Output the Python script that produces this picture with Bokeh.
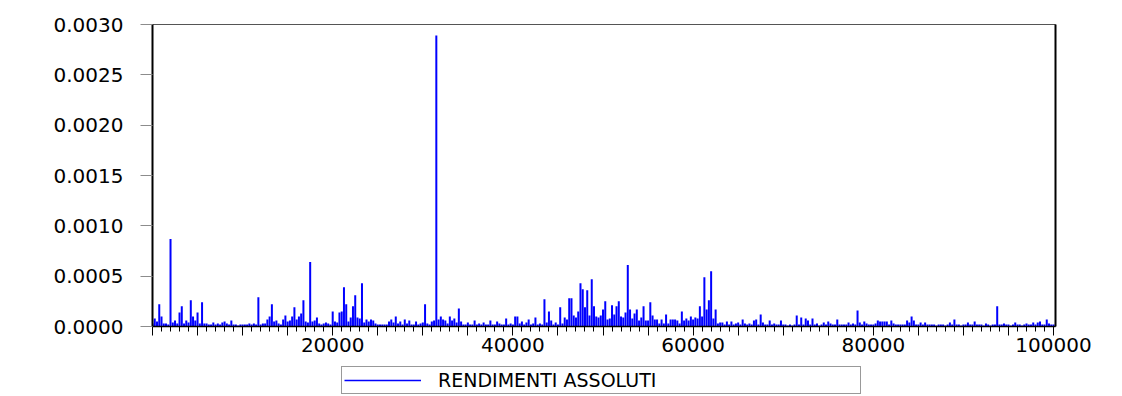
from bokeh.plotting import figure
from bokeh.layouts import column
from bokeh.models import (FixedTicker, LinearAxis, Legend, LegendItem, Range1d,
                          PrintfTickFormatter, ColumnDataSource)
from bokeh.embed import file_html
from bokeh.resources import INLINE

# Absolute returns, one reading every 250 observations, in units of 1e-5
STEP = 250
seg_0_20k = [3, 8, 5, 22, 10, 3, 3, 2, 87, 4, 6, 3, 14, 20, 3, 6, 4, 26, 10, 6,
             14, 3, 24, 3, 3, 2, 2, 4, 2, 3, 2, 4, 5, 3, 2, 6, 2, 2, 1, 2,
             2, 2, 2, 3, 2, 3, 2, 29, 2, 3, 3, 7, 10, 22, 5, 6, 3, 2, 7, 11,
             5, 6, 10, 19, 7, 10, 13, 26, 5, 4, 64, 5, 6, 9, 3, 2, 3, 4, 3, 2]
seg_20k_40k = [15, 5, 4, 14, 15, 39, 22, 5, 9, 20, 31, 9, 8, 43, 4, 7, 5, 7, 6, 3,
               2, 2, 2, 2, 2, 5, 7, 4, 10, 3, 5, 2, 7, 3, 6, 2, 2, 5, 2, 3,
               4, 22, 3, 2, 5, 6, 289, 7, 10, 7, 6, 3, 10, 6, 8, 4, 18, 5, 2, 2,
               4, 2, 2, 6, 2, 3, 2, 4, 2, 2, 6, 2, 2, 5, 3, 2, 2, 8, 2, 3]
seg_40k_60k = [2, 10, 10, 3, 5, 2, 4, 7, 2, 3, 9, 2, 3, 2, 27, 4, 15, 6, 2, 4,
               2, 19, 3, 9, 7, 28, 28, 11, 9, 15, 43, 37, 19, 36, 11, 47, 20, 10, 9, 11,
               17, 25, 7, 8, 21, 12, 20, 25, 10, 9, 14, 61, 17, 8, 13, 17, 6, 9, 20, 6,
               6, 24, 11, 7, 7, 3, 7, 3, 12, 3, 7, 7, 7, 6, 3, 15, 6, 8, 6, 10]
seg_60k_80k = [7, 9, 8, 20, 10, 49, 17, 26, 55, 8, 17, 3, 4, 4, 2, 5, 2, 5, 2, 3,
               4, 2, 7, 3, 2, 3, 2, 6, 7, 2, 12, 4, 2, 2, 6, 2, 3, 2, 2, 6,
               2, 2, 1, 2, 1, 2, 11, 2, 9, 2, 8, 6, 2, 8, 2, 3, 1, 2, 4, 2,
               5, 3, 2, 2, 7, 2, 2, 2, 2, 4, 2, 3, 2, 16, 4, 2, 5, 3, 2, 2]
seg_80k_100k = [2, 3, 6, 5, 5, 5, 5, 2, 6, 3, 2, 2, 2, 2, 2, 6, 4, 10, 6, 2,
                2, 4, 2, 4, 2, 2, 2, 2, 1, 2, 2, 2, 1, 2, 4, 2, 7, 2, 2, 1,
                2, 2, 4, 2, 2, 5, 2, 2, 2, 1, 3, 2, 1, 2, 2, 20, 2, 2, 3, 2,
                2, 1, 2, 4, 2, 2, 1, 2, 3, 2, 2, 4, 2, 4, 5, 2, 2, 7, 3, 2, 2]

y_ticks = [0.0, 0.0005, 0.0010, 0.0015, 0.0020, 0.0025, 0.0030]
x_labelled = [20000, 40000, 60000, 80000, 100000]
series_name = "RENDIMENTI ASSOLUTI"

values_e5 = seg_0_20k + seg_20k_40k + seg_40k_60k + seg_60k_80k + seg_80k_100k
obs = [i * STEP for i in range(len(values_e5))]
ret = [v * 1e-5 for v in values_e5]
src = ColumnDataSource(data=dict(x=obs, y=ret, base=[0.0] * len(obs)))

FONT = "DejaVu Sans"

p = figure(width=1122, height=362, output_backend="svg", toolbar_location=None,
           x_range=Range1d(0, 100220), y_range=Range1d(0, 0.003),
           min_border_left=152, min_border_right=67, min_border_top=24,
           min_border_bottom=36, background_fill_color="white",
           border_fill_color="white")
p.xgrid.visible = False
p.ygrid.visible = False
p.outline_line_color = "#555555"
p.outline_line_width = 1

# spikes from zero up to each absolute return
p.segment(x0="x", y0="base", x1="x", y1="y", source=src,
          line_color="#0000FF", line_width=2)

# y axis
ya = p.yaxis[0]
ya.ticker = FixedTicker(ticks=y_ticks)
ya.formatter = PrintfTickFormatter(format="%.4f")
ya.axis_line_color = "black"
ya.axis_line_width = 2
ya.major_tick_in = 0
ya.major_tick_out = 12
ya.major_tick_line_color = "#8c8c8c"
ya.minor_tick_line_color = None
ya.major_label_standoff = 17
ya.major_label_text_font = FONT
ya.major_label_text_font_size = "20px"
ya.major_label_text_color = "black"

# x axis: long ticks every 5000, short ticks every 1000, labels every 20000
major = list(range(0, 100001, 5000))
minor = list(range(0, 100001, 1000))
xa = p.xaxis[0]
xa.ticker = FixedTicker(ticks=major, minor_ticks=minor)
xa.formatter = PrintfTickFormatter(format="%d")
xa.major_label_overrides = {t: "" for t in major if t not in x_labelled}
xa.axis_line_color = "black"
xa.axis_line_width = 1.5
xa.major_tick_in = 0
xa.major_tick_out = 9
xa.minor_tick_in = 0
xa.minor_tick_out = 5
xa.major_tick_line_color = "black"
xa.minor_tick_line_color = "black"
xa.major_label_standoff = 2
xa.major_label_text_font = FONT
xa.major_label_text_font_size = "20px"
xa.major_label_text_color = "black"

# plain right edge of the frame
ra = LinearAxis(ticker=FixedTicker(ticks=[]), axis_line_color="black",
                axis_line_width=2, major_tick_out=0, major_tick_in=0,
                minor_tick_out=0, major_label_text_font_size="0px")
p.add_layout(ra, "right")

# strip under the chart holding the series legend (its frame lines up with the chart's)
lg = figure(width=1122, height=34, output_backend="svg", toolbar_location=None,
            x_range=Range1d(0, 1), y_range=Range1d(0, 1),
            min_border=0, background_fill_color="white",
            border_fill_color="white", outline_line_color=None)
lg.axis.visible = False
lg.grid.visible = False
key = lg.line(x=[-2, -1], y=[0.5, 0.5], line_color="#0000FF", line_width=1.5)

legend = Legend(items=[LegendItem(label=series_name, renderers=[key])],
                location=(189, 2), orientation="horizontal",
                border_line_color="#333333", border_line_width=1,
                background_fill_color="white", padding=2, margin=0,
                glyph_width=77, glyph_height=14, label_standoff=17,
                label_width=420, label_height=14,
                label_text_font=FONT, label_text_font_size="19px",
                label_text_color="black")
lg.add_layout(legend, "center")

page = column(p, lg, spacing=0)
open("out.html", "w").write(file_html(page, INLINE))
